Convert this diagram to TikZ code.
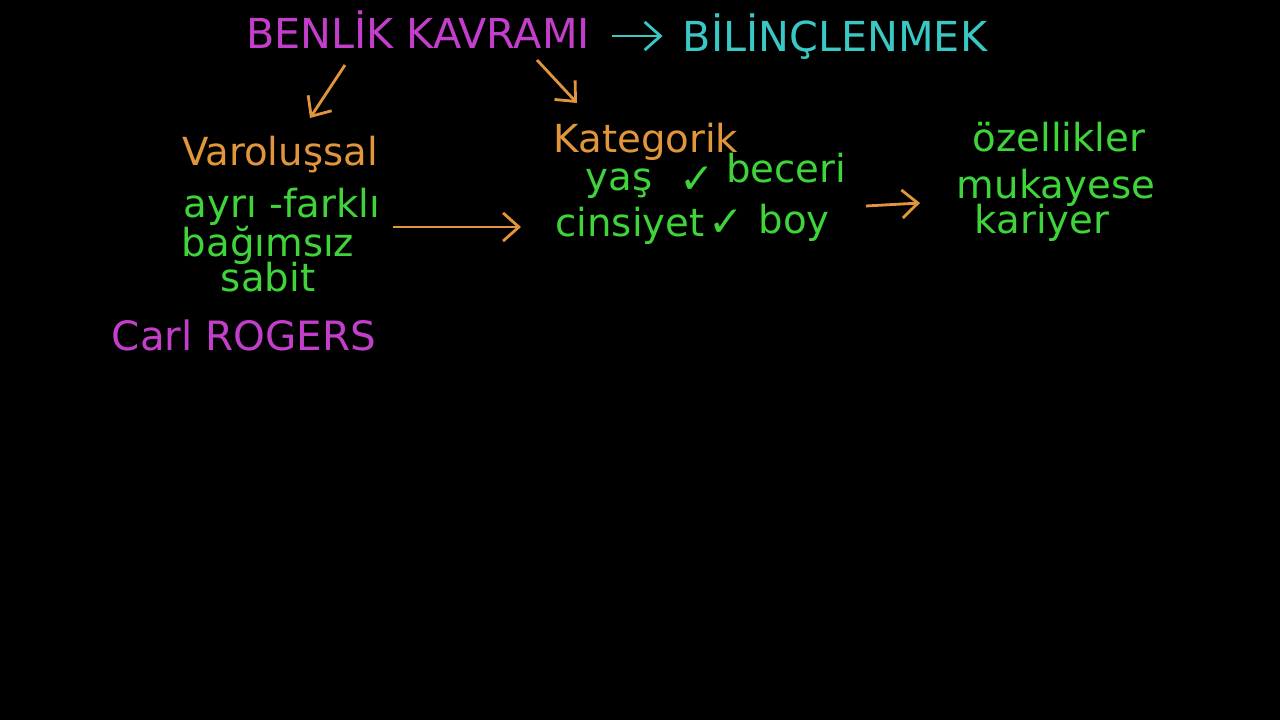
\documentclass[tikz,border=0pt]{standalone}
\usepackage{fontspec}
\setmainfont{DejaVu Sans}
\usetikzlibrary{arrows.meta,calc}
\definecolor{benlikpink}{RGB}{196,62,204}
\definecolor{bilinccyan}{RGB}{58,200,196}
\definecolor{okorange}{RGB}{226,150,60}
\definecolor{wordgreen}{RGB}{62,212,58}
\tikzset{word/.style={inner sep=0pt,anchor=base,font=\fontsize{22}{24}\selectfont},
         caps/.style={inner sep=0pt,anchor=base,font=\fontsize{23.5}{26}\selectfont},
         pink/.style={caps,text=benlikpink},
         cyan/.style={caps,text=bilinccyan},
         orng/.style={word,text=okorange},
         grn/.style={word,text=wordgreen},
         tick/.style={grn,font=\fontsize{24}{26}\selectfont},
         barb/.style={-{Straight Barb[length=9pt,width=16pt,line width=1.6pt]},line width=1.6pt},
         okarrow/.style={barb,okorange}}

\begin{document}
\begin{tikzpicture}[x=0.02cm,y=-0.02cm]
\fill[black] (0,0) rectangle (1280,720);
\useasboundingbox (0,0) rectangle (1280,720);
       \node [pink] at (418,48) (benlik) {BENLİK KAVRAMI};
       \node [cyan] at (835,51) (bilinc) {BİLİNÇLENMEK};
%
       \node [orng] at (280,165) (varolussal) {Varoluşsal};
       \node [grn] at (282,217) (ayri) {ayrı -farklı};
       \node [grn] at (268,256) (bagimsiz) {bağımsız};
       \node [grn] at (268,291) (sabit) {sabit};
       \node [pink,font=\fontsize{23}{26}\selectfont] at (244,350) (rogers) {Carl ROGERS};
%
       \node [orng] at (646,152) (kategorik) {Kategorik};
       \node [grn] at (619,190) (yas) {yaş};
       \node [tick] at (697,193) (tick yas) {✓};
       \node [grn] at (786,182) (beceri) {beceri};
       \node [grn] at (630,236) (cinsiyet) {cinsiyet};
       \node [tick] at (726,236) (tick cinsiyet) {✓};
       \node [grn] at (794,233) (boy) {boy};
%
       \node [grn] at (1059,151) (ozellikler) {özellikler};
       \node [grn] at (1056,198) (mukayese) {mukayese};
       \node [grn] at (1042,233) (kariyer) {kariyer};
%
%
\path[barb,bilinccyan] ($(benlik.base east)+(22,-12)$) edge ($(bilinc.base west)+(-20,-15)$);
\path[okarrow] ($(benlik.base)+(-73,17)$) edge ($(varolussal.base)+(30,-47)$);
\path[okarrow] ($(benlik.base)+(119,12)$) edge ($(kategorik.base)+(-69,-49)$);
\path[okarrow] ($(ayri.base)+(111,10)$) edge ($(cinsiyet.base)+(-109,-9)$);
\path[okarrow] ($(boy.base)+(72,-27)$) edge ($(mukayese.base)+(-136,5)$);

\end{tikzpicture}
\end{document}
